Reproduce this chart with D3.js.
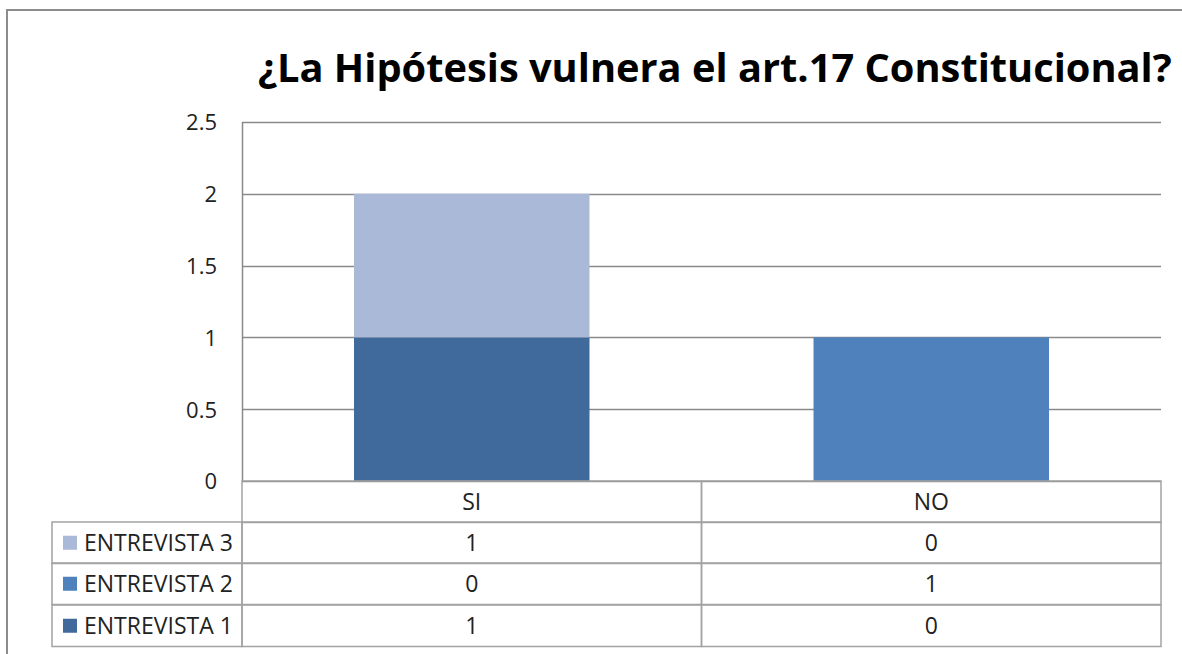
<!DOCTYPE html>
<html>
<head>
<meta charset="utf-8">
<script src="https://cdn.jsdelivr.net/npm/d3@7"></script>
<style>
  body { margin: 0; background: #fff; }
  text { font-family: "Open Sans", "Noto Sans", sans-serif; }
</style>
</head>
<body>
<svg id="chart" width="1182" height="654"></svg>
<script>
// chart data
var titleText = "¿La Hipótesis vulnera el art.17 Constitucional?";
var categories = ["SI", "NO"];
var seriesNames = ["ENTREVISTA 1", "ENTREVISTA 2", "ENTREVISTA 3"];
var entrevista1 = [1, 0];
var entrevista2 = [0, 1];
var entrevista3 = [1, 0];
var yTicks = [0, 0.5, 1, 1.5, 2, 2.5];
var seriesColors = ["#3F6A9B", "#4F81BD", "#AAB9D7"];

var seriesValues = [entrevista1, entrevista2, entrevista3];

var svg = d3.select("#chart");

// outer chart frame
svg.append("rect")
    .attr("x", 7).attr("y", 10)
    .attr("width", 1190).attr("height", 660)
    .attr("fill", "none")
    .attr("stroke", "#8c8c8c")
    .attr("stroke-width", 2);

var plot = { left: 242, right: 1161, top: 122, bottom: 481 };

var x = d3.scaleBand()
    .domain(categories)
    .range([plot.left, plot.right])
    .paddingInner(0.4875)
    .paddingOuter(0.24375);

var y = d3.scaleLinear()
    .domain([0, 2.5])
    .range([plot.bottom, plot.top]);

// gridlines
svg.append("g").selectAll("line")
    .data(yTicks)
    .join("line")
    .attr("x1", plot.left).attr("x2", plot.right)
    .attr("y1", function (d) { return Math.round(y(d)) + 0.5; })
    .attr("y2", function (d) { return Math.round(y(d)) + 0.5; })
    .attr("stroke", "#8a8a8a")
    .attr("stroke-width", 1.5);

svg.append("line")
    .attr("x1", plot.left + 0.5).attr("x2", plot.left + 0.5)
    .attr("y1", plot.top).attr("y2", plot.bottom)
    .attr("stroke", "#8a8a8a")
    .attr("stroke-width", 1.5);

// y axis labels
var yAxis = d3.axisLeft(y)
    .tickValues(yTicks)
    .tickSize(0)
    .tickPadding(0)
    .tickFormat(function (d) { return String(d); });
var yg = svg.append("g")
    .attr("transform", "translate(217,0)")
    .call(yAxis);
yg.select(".domain").remove();
yg.attr("font-size", 22);
yg.selectAll("text")
    .attr("fill", "#222")
    .attr("dy", "0.36em");

// stacked bars
var table = categories.map(function (c, i) {
    var row = { cat: c };
    seriesNames.forEach(function (s, k) { row[s] = seriesValues[k][i]; });
    return row;
});
var stacked = d3.stack().keys(seriesNames)(table);

svg.append("g").selectAll("g")
    .data(stacked)
    .join("g")
    .attr("fill", function (d, k) { return seriesColors[k]; })
    .selectAll("rect")
    .data(function (d) { return d; })
    .join("rect")
    .attr("x", function (d) { return x(d.data.cat); })
    .attr("width", x.bandwidth())
    .attr("y", function (d) { return y(d[1]); })
    .attr("height", function (d) { return y(d[0]) - y(d[1]); });

// data table below the plot
var rowTop = [481, 522, 563, 605];
var rowH = 41.5;
var tableLeft = 52;
var lineColor = "#a3a3a3";
var fs = 23;
var tg = svg.append("g");

// header row cells (category names)
categories.forEach(function (c) {
    var x0 = x(c) - x.step() * x.paddingInner() / 2;
    tg.append("rect")
        .attr("x", x0).attr("y", rowTop[0])
        .attr("width", x.step()).attr("height", rowH)
        .attr("fill", "none").attr("stroke", lineColor).attr("stroke-width", 1.5);
    tg.append("text")
        .attr("x", x(c) + x.bandwidth() / 2)
        .attr("y", rowTop[0] + rowH / 2 + 8)
        .attr("text-anchor", "middle")
        .attr("font-size", fs)
        .attr("fill", "#222")
        .text(c);
});

// series rows, top row is the last series
var rowsOrder = seriesNames.map(function (s, k) { return k; }).reverse();
rowsOrder.forEach(function (k, r) {
    var top = rowTop[r + 1];
    tg.append("rect")
        .attr("x", tableLeft).attr("y", top)
        .attr("width", plot.left - tableLeft).attr("height", rowH)
        .attr("fill", "none").attr("stroke", lineColor).attr("stroke-width", 1.5);
    tg.append("rect")
        .attr("x", 63).attr("y", top + rowH / 2 - 7)
        .attr("width", 14).attr("height", 14)
        .attr("fill", seriesColors[k]);
    var lbl = tg.append("text")
        .attr("x", 84)
        .attr("y", top + rowH / 2 + 8)
        .attr("font-size", fs)
        .attr("fill", "#222")
        .text(seriesNames[k]);
    // keep label inside its cell like the original
    var lw = lbl.node().getComputedTextLength();
    if (lw > 155) lbl.attr("textLength", 155).attr("lengthAdjust", "spacingAndGlyphs");
    categories.forEach(function (c, i) {
        var x0 = x(c) - x.step() * x.paddingInner() / 2;
        tg.append("rect")
            .attr("x", x0).attr("y", top)
            .attr("width", x.step()).attr("height", rowH)
            .attr("fill", "none").attr("stroke", lineColor).attr("stroke-width", 1.5);
        tg.append("text")
            .attr("x", x(c) + x.bandwidth() / 2)
            .attr("y", top + rowH / 2 + 8)
            .attr("text-anchor", "middle")
            .attr("font-size", fs)
            .attr("fill", "#222")
            .text(seriesValues[k][i]);
    });
});

// title, fitted to the width it has in the original
var title = svg.append("text")
    .attr("x", 258)
    .attr("y", 82)
    .attr("font-size", 40)
    .attr("font-weight", "bold")
    .attr("fill", "#000")
    .text(titleText);
var tw = title.node().getComputedTextLength();
title.attr("font-size", 40 * 914 / tw);
</script>
</body>
</html>
